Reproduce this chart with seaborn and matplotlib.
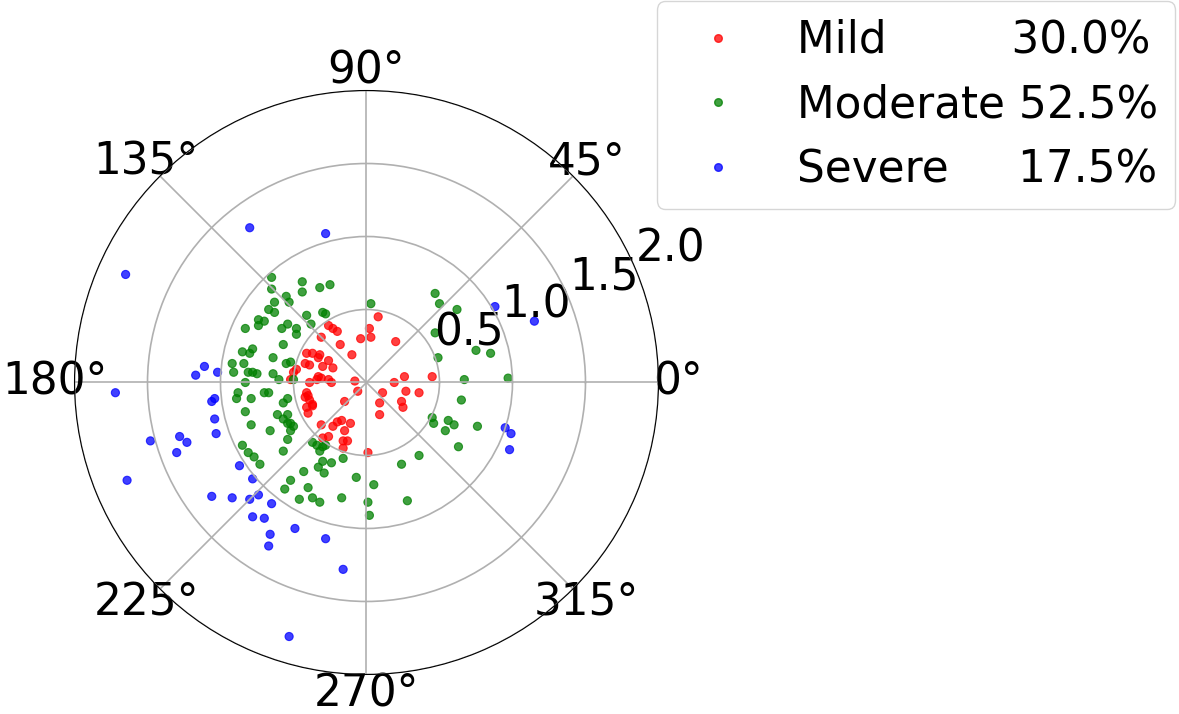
import numpy as np
import pandas as pd
import matplotlib.pyplot as plt
import seaborn as sns
from matplotlib.lines import Line2D

# Point positions, as east / north components in radius units
mild_x = [0.08, 0.02, 0.03, -0.04, -0.26, -0.23, -0.20, -0.31, -0.18, -0.10,
          -0.41, -0.37, -0.32, -0.33, -0.26, -0.42, -0.39, -0.30, -0.23, -0.50,
          -0.48, -0.52, -0.33, -0.31, -0.34, -0.26, -0.24, -0.39, -0.08, -0.06,
          -0.41, -0.40, -0.42, -0.39, -0.37, -0.37, -0.41, -0.40, -0.15, -0.31,
          -0.23, -0.20, -0.17, -0.11, -0.15, -0.30, -0.26, -0.16, -0.13, -0.16,
          0.01, 0.11, 0.09, 0.09, 0.20, 0.26, 0.19, 0.27, 0.36, 0.24,
          0.25, 0.45]
mild_y = [0.45, 0.37, 0.31, 0.30, 0.39, 0.37, 0.35, 0.31, 0.26, 0.19,
          0.20, 0.20, 0.19, 0.17, 0.15, 0.13, 0.12, 0.11, 0.10, 0.07,
          0.09, 0.02, 0.04, 0.03, 0.02, 0.02, 0.00, 0.00, 0.01, -0.06,
          -0.07, -0.09, -0.10, -0.12, -0.15, -0.16, -0.17, -0.21, -0.13, -0.29,
          -0.30, -0.27, -0.26, -0.28, -0.33, -0.38, -0.37, -0.40, -0.40, -0.45,
          -0.48, -0.07, -0.14, -0.22, 0.28, 0.04, 0.00, -0.06, -0.07, -0.13,
          -0.17, 0.04]

mod_x = [-0.65, -0.65, -0.44, -0.44, -0.32, -0.25, -0.55, -0.53, -0.63, -0.67,
         -0.63, -0.41, -0.30, -0.28, -0.38, -0.74, -0.70, -0.74, -0.83, -0.54,
         -0.58, -0.48, 0.03, 0.47, 0.50, 0.62, 0.47, 0.75, 0.85, 0.49,
         0.67, 0.97, 0.65, 0.45, 0.46, 0.56, 0.60, 0.54, 0.76, 0.63,
         0.36, 0.24, -0.07, 0.05, -0.24, -0.16, -0.30, -0.29, -0.30, -0.32,
         -0.17, -0.32, 0.01, 0.02, 0.28, -0.28, -0.66, -0.52, -0.54, -0.57,
         -0.85, -0.81, -0.77, -0.73, -0.37, -0.34, -0.33, -0.43, -0.52, -0.56,
         -0.40, -0.46, -0.37, -0.48, -0.85, -0.78, -0.80, -0.92, -0.84, -0.57,
         -0.64, -0.55, -0.52, -0.81, -0.78, -0.75, -0.91, -0.64, -0.60, -0.83,
         -0.88, -0.89, -0.79, -0.70, -0.67, -0.50, -0.54, -0.57, -0.83, -0.61,
         -0.57, -0.54, -0.52, -0.54, -0.50, -0.79]
mod_y = [0.72, 0.64, 0.69, 0.62, 0.65, 0.67, 0.59, 0.55, 0.55, 0.50,
         0.48, 0.46, 0.48, 0.47, 0.40, 0.43, 0.42, 0.39, 0.37, 0.40,
         0.37, 0.37, 0.54, 0.61, 0.54, 0.50, 0.34, 0.22, 0.20, 0.17,
         0.02, 0.03, -0.12, -0.24, -0.28, -0.26, -0.29, -0.33, -0.30, -0.44,
         -0.50, -0.56, -0.65, -0.70, -0.55, -0.52, -0.54, -0.62, -0.44, -0.47,
         -0.79, -0.82, -0.82, -0.91, -0.81, -0.43, -0.33, -0.33, -0.39, -0.47,
         -0.43, -0.48, -0.51, -0.56, -0.41, -0.43, -0.58, -0.61, -0.67, -0.73,
         -0.72, -0.80, -0.79, 0.33, 0.21, 0.23, 0.20, 0.13, 0.13, 0.26,
         0.17, 0.13, 0.14, 0.07, 0.07, 0.06, 0.07, 0.06, 0.02, 0.00,
         -0.07, -0.11, -0.11, -0.07, -0.07, 0.02, -0.11, -0.14, -0.20, -0.22,
         -0.25, -0.22, -0.28, -0.28, -0.30, -0.29]

sev_x = [-0.80, -0.28, -1.65, 0.88, 1.15, -1.17, -1.11, -1.02, -1.72, -1.06,
         -1.04, -1.04, -1.48, -1.28, -1.23, -1.30, -1.03, -1.64, -1.06, -0.92,
         -0.87, -0.78, -0.80, -0.74, -0.65, -0.78, -0.70, -0.66, -0.67, -0.49,
         -0.28, -0.16, -0.53, 0.95, 0.99, 0.98]
sev_y = [1.06, 1.02, 0.74, 0.52, 0.42, 0.05, 0.11, 0.07, -0.07, -0.13,
         -0.11, -0.25, -0.40, -0.37, -0.41, -0.48, -0.35, -0.67, -0.78, -0.79,
         -0.57, -0.66, -0.80, -0.77, -0.83, -0.92, -0.93, -1.04, -1.12, -1.00,
         -1.07, -1.28, -1.74, -0.31, -0.35, -0.46]

categories = ['Mild', 'Moderate', 'Severe']
shares = [30.0, 52.5, 17.5]
colors = {'Mild': 'red', 'Moderate': 'green', 'Severe': 'blue'}
label_pad = {'Mild': 9, 'Moderate': 1, 'Severe': 5}

# build one long table in polar coordinates
parts = []
for name, xs, ys in [('Mild', mild_x, mild_y), ('Moderate', mod_x, mod_y), ('Severe', sev_x, sev_y)]:
    xs = np.array(xs)
    ys = np.array(ys)
    parts.append(pd.DataFrame({'theta': np.arctan2(ys, xs), 'r': np.hypot(xs, ys), 'severity': name}))
df = pd.concat(parts, ignore_index=True)

fig = plt.figure(figsize=(11.79, 7.14), dpi=100)
ax = fig.add_axes([0.0632, 0.0553, 0.4953, 0.818], projection='polar')

sns.scatterplot(data=df, x='theta', y='r', hue='severity', hue_order=categories,
                palette=colors, s=34, alpha=0.75, edgecolor='face', linewidth=0.8,
                legend=False, ax=ax)

ax.set_ylim(0, 2)
ax.set_yticks([0.5, 1.0, 1.5, 2.0])
ax.set_xlabel('')
ax.set_ylabel('')
ax.tick_params(labelsize=31.5)
ax.grid(True, color='#b0b0b0', linewidth=1.2)

# legend with padded names so the percentages line up roughly
handles = [Line2D([], [], marker='o', linestyle='', color=colors[c], alpha=0.75,
                  markersize=5.5) for c in categories]
labels = [f"{c}{' ' * label_pad[c]}{p:.1f}%" for c, p in zip(categories, shares)]
fig.legend(handles, labels, loc='upper left', bbox_to_anchor=(0.557, 0.998),
           borderaxespad=0, fontsize=31.5)

fig.savefig('out.png', dpi=100)
